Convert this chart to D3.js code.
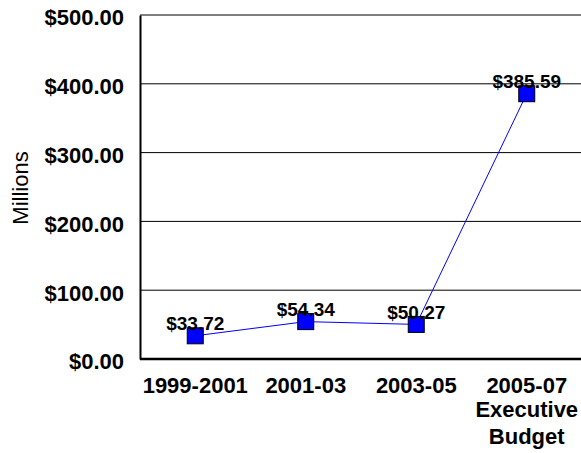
<!DOCTYPE html>
<html>
<head>
<meta charset="utf-8">
<script src="https://cdn.jsdelivr.net/npm/d3@7"></script>
<style>
  body { margin: 0; background: #fff; }
  svg text { font-family: "Liberation Sans", Arial, sans-serif; }
</style>
</head>
<body>
<div id="chart"></div>
<script>
// biennium labels, second line for the last one
const periods = ["1999-2001", "2001-03", "2003-05", "2005-07"];
const subLabels = ["", "", "", "Executive\nBudget"];
const amounts = [33.72, 54.34, 50.27, 385.59];
const yTicks = [0, 100, 200, 300, 400, 500];

const W = 581, H = 453;
const margin = { top: 15, right: -1, bottom: 94, left: 140 };
const width = W - margin.left - margin.right;
const height = H - margin.top - margin.bottom;

const svg = d3.select("#chart").append("svg")
  .attr("width", W).attr("height", H);

const g = svg.append("g")
  .attr("transform", "translate(" + margin.left + "," + margin.top + ")");

const x = d3.scalePoint().domain(periods).range([0, width]).padding(0.5);
const y = d3.scaleLinear().domain([0, 500]).range([height, 0]);

const fmt = d => "$" + d3.format(",.2f")(d);

// gridlines
g.selectAll(".grid").data(yTicks.filter(d => d > 0)).enter()
  .append("line")
  .attr("x1", 0).attr("x2", width)
  .attr("y1", d => y(d)).attr("y2", d => y(d))
  .attr("stroke", "#000").attr("stroke-width", 1);

// y axis
const yAxis = g.append("g")
  .call(d3.axisLeft(y).tickValues(yTicks).tickSize(0).tickPadding(16).tickFormat(fmt));
yAxis.select(".domain").attr("stroke", "#000").attr("stroke-width", 2);
yAxis.selectAll("text")
  .attr("dy", "0.45em")
  .style("font-size", "22px").style("font-weight", "bold").attr("fill", "#000");

// x axis line
g.append("line")
  .attr("x1", 0).attr("x2", width)
  .attr("y1", y(0)).attr("y2", y(0))
  .attr("stroke", "#000").attr("stroke-width", 2.5);

// x labels
const xl = g.selectAll(".xlab").data(periods).enter()
  .append("text")
  .attr("text-anchor", "middle")
  .attr("x", d => x(d))
  .attr("y", height + 34)
  .style("font-size", "22px").style("font-weight", "bold");
xl.append("tspan").text(d => d);
xl.each(function(d, i) {
  subLabels[i].split("\n").filter(s => s).forEach((s, j) => {
    d3.select(this).append("tspan")
      .attr("x", x(d)).attr("dy", j === 0 ? 24 : 27).text(s);
  });
});

// y title
svg.append("text")
  .attr("transform", "translate(28," + (margin.top + height / 2 + 1) + ") rotate(-90)")
  .attr("text-anchor", "middle")
  .style("font-size", "22px")
  .text("Millions");

// line
const line = d3.line().x((d, i) => x(periods[i])).y(d => y(d));
g.append("path").datum(amounts)
  .attr("d", line)
  .attr("fill", "none").attr("stroke", "#0000ff").attr("stroke-width", 1);

// markers
const s = 16;
g.selectAll(".pt").data(amounts).enter()
  .append("rect")
  .attr("x", (d, i) => x(periods[i]) - s / 2)
  .attr("y", d => y(d) - s / 2)
  .attr("width", s).attr("height", s)
  .attr("fill", "#0000ff").attr("stroke", "#000").attr("stroke-width", 1);

// value labels
g.selectAll(".val").data(amounts).enter()
  .append("text")
  .attr("text-anchor", "middle")
  .attr("x", (d, i) => x(periods[i]))
  .attr("y", d => y(d) - 5.5)
  .style("font-size", "19px").style("font-weight", "bold")
  .text(fmt);
</script>
</body>
</html>
